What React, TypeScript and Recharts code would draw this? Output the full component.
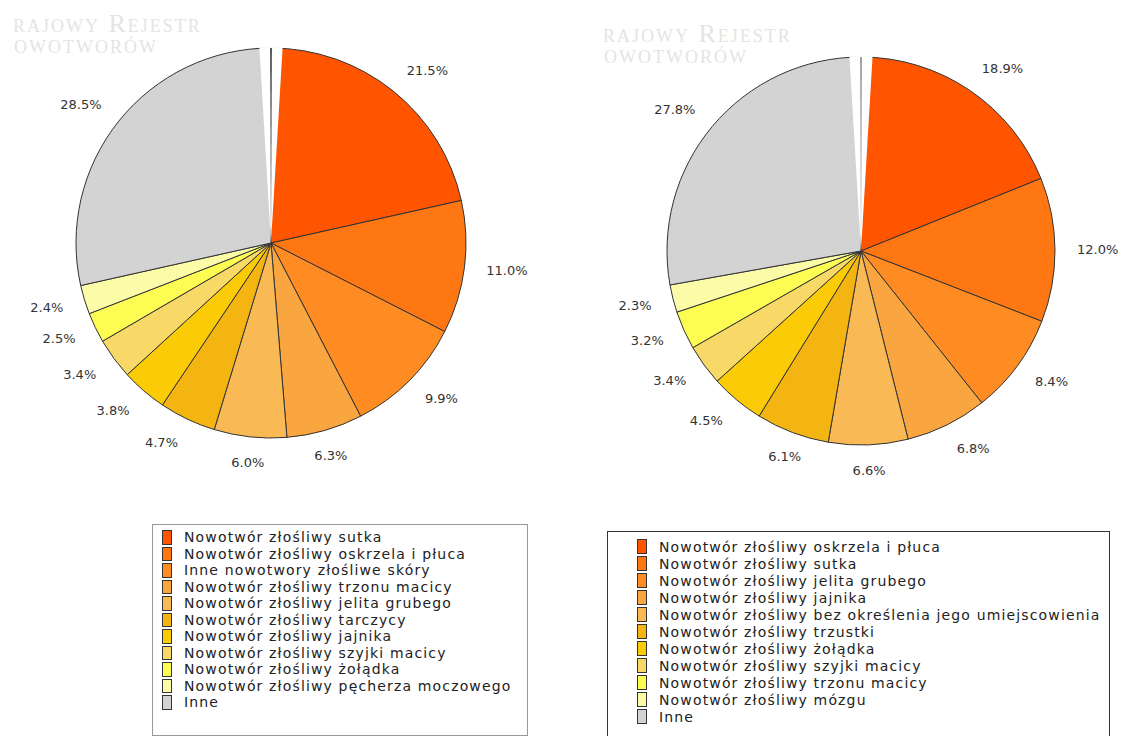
import React from "react";
import { PieChart, Pie, Cell } from "recharts";

// 2 zestawienia: udział nowotworów złośliwych (%)
const leftNames = [
  "Nowotwór złośliwy sutka",
  "Nowotwór złośliwy oskrzela i płuca",
  "Inne nowotwory złośliwe skóry",
  "Nowotwór złośliwy trzonu macicy",
  "Nowotwór złośliwy jelita grubego",
  "Nowotwór złośliwy tarczycy",
  "Nowotwór złośliwy jajnika",
  "Nowotwór złośliwy szyjki macicy",
  "Nowotwór złośliwy żołądka",
  "Nowotwór złośliwy pęcherza moczowego",
  "Inne",
];
const leftValues = [21.5, 11.0, 9.9, 6.3, 6.0, 4.7, 3.8, 3.4, 2.5, 2.4, 28.5];

const rightNames = [
  "Nowotwór złośliwy oskrzela i płuca",
  "Nowotwór złośliwy sutka",
  "Nowotwór złośliwy jelita grubego",
  "Nowotwór złośliwy jajnika",
  "Nowotwór złośliwy bez określenia jego umiejscowienia",
  "Nowotwór złośliwy trzustki",
  "Nowotwór złośliwy żołądka",
  "Nowotwór złośliwy szyjki macicy",
  "Nowotwór złośliwy trzonu macicy",
  "Nowotwór złośliwy mózgu",
  "Inne",
];
const rightValues = [18.9, 12.0, 8.4, 6.8, 6.6, 6.1, 4.5, 3.4, 3.2, 2.3, 27.8];

const sliceColors = [
  "#ff5500",
  "#ff7712",
  "#ff8c22",
  "#f9a540",
  "#f9b954",
  "#f4b412",
  "#facb06",
  "#f8d866",
  "#fcfc52",
  "#fcfca8",
  "#d3d3d3",
];

// white notch at 12 o'clock
const topGap = [{ value: 1 }];

const RADIAN = Math.PI / 180;
const FONT = '"DejaVu Sans", Verdana, sans-serif';

// label sits just outside the rim, aligned away from the pie
const renderPercent = (props: any) => {
  const { cx, cy, midAngle, outerRadius, value } = props;
  const c = Math.cos(-midAngle * RADIAN);
  const s = Math.sin(-midAngle * RADIAN);
  const r = outerRadius + 22;
  const anchor = c > 0.39 ? "start" : c < -0.39 ? "end" : "middle";
  return (
    <text
      x={cx + r * c}
      y={cy + r * s + 4 * s}
      textAnchor={anchor}
      dominantBaseline="central"
      fill="#333"
      fontSize={13}
      fontFamily={FONT}
    >
      {value.toFixed(1)}%
    </text>
  );
};

const CancerPie = ({ names, values, cx, cy, radius, lineColor }: any) => {
  const data = values.map((v: number, i: number) => ({ name: names[i], value: v }));
  return (
    <PieChart width={562} height={736} margin={{ top: 0, right: 0, bottom: 0, left: 0 }}>
      <Pie
        data={data}
        dataKey="value"
        nameKey="name"
        cx={cx}
        cy={cy}
        outerRadius={radius}
        startAngle={90}
        endAngle={-270}
        stroke="#333"
        strokeWidth={1}
        label={renderPercent}
        labelLine={false}
        isAnimationActive={false}
      >
        {data.map((d: any, i: number) => (
          <Cell key={d.name} fill={sliceColors[i]} />
        ))}
      </Pie>
      <Pie
        data={topGap}
        dataKey="value"
        cx={cx}
        cy={cy}
        outerRadius={radius + 1}
        startAngle={93.4}
        endAngle={86.6}
        fill="#fff"
        stroke="none"
        legendType="none"
        isAnimationActive={false}
      />
      <Pie
        data={topGap}
        dataKey="value"
        cx={cx}
        cy={cy}
        outerRadius={radius}
        startAngle={90.2}
        endAngle={89.8}
        fill={lineColor}
        stroke="none"
        legendType="none"
        isAnimationActive={false}
      />
    </PieChart>
  );
};

const LegendBox = ({ names, style, rowH, borderColor }: any) => (
  <div
    style={{
      position: "absolute",
      boxSizing: "border-box",
      border: `1px solid ${borderColor}`,
      background: "#fff",
      fontFamily: FONT,
      fontSize: 14,
      color: "#222",
      ...style,
    }}
  >
    {names.map((n: string, i: number) => (
      <div key={n} style={{ display: "flex", alignItems: "center", height: rowH, whiteSpace: "nowrap" }}>
        <span
          style={{
            display: "inline-block",
            boxSizing: "border-box",
            width: 10,
            height: rowH - 2,
            background: sliceColors[i],
            border: "1px solid #333",
            marginRight: 12,
          }}
        />
        <span style={{ letterSpacing: 1.15 }}>{n}</span>
      </div>
    ))}
  </div>
);

const Watermark = ({ left, top }: any) => (
  <div
    style={{
      position: "absolute",
      left,
      top,
      fontFamily: '"Liberation Serif", "DejaVu Serif", serif',
      fontVariant: "small-caps",
      fontSize: 26,
      lineHeight: "21px",
      color: "#e4e4e4",
      letterSpacing: 2,
      whiteSpace: "nowrap",
    }}
  >
    rajowy Rejestr
    <br />
    <span style={{ marginLeft: 1 }}>owotworów</span>
  </div>
);

const App = () => (
  <div
    style={{
      position: "absolute",
      left: 0,
      top: 0,
      width: 1125,
      height: 736,
      background: "#fff",
      overflow: "hidden",
    }}
  >
    <Watermark left={13} top={13} />
    <Watermark left={603} top={23} />
    <div style={{ position: "absolute", left: 0, top: 0 }}>
      <CancerPie names={leftNames} values={leftValues} cx={271} cy={243} radius={195} lineColor="#111" />
    </div>
    <div style={{ position: "absolute", left: 562, top: 0 }}>
      <CancerPie names={rightNames} values={rightValues} cx={299} cy={251} radius={194} lineColor="#777" />
    </div>
    <LegendBox
      names={leftNames}
      rowH={16.5}
      borderColor="#999"
      style={{ left: 152, top: 524, width: 376, height: 212, padding: "4px 0 0 9px" }}
    />
    <LegendBox
      names={rightNames}
      rowH={17}
      borderColor="#333"
      style={{ left: 607, top: 531, width: 503, height: 215, padding: "6px 0 0 29px" }}
    />
  </div>
);

export default App;
